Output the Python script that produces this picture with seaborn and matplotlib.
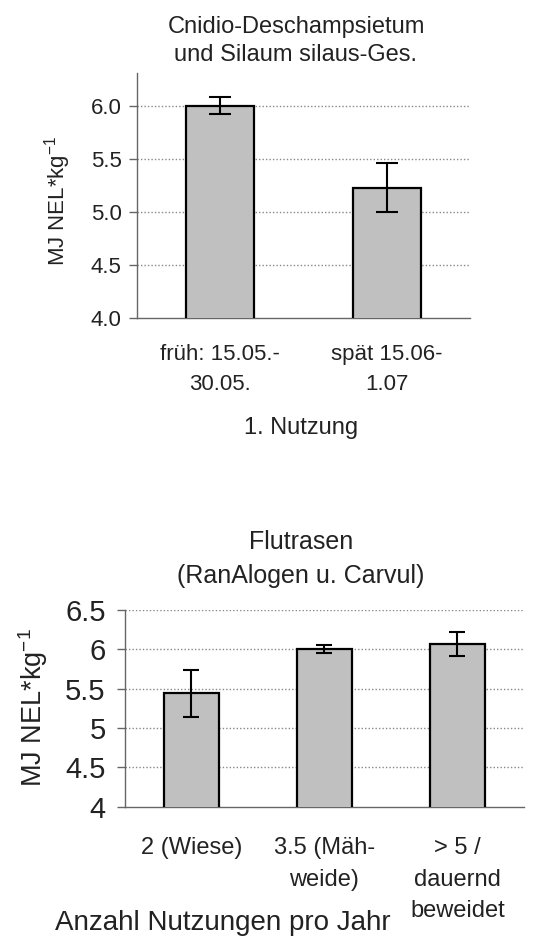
import matplotlib
matplotlib.use("Agg")
import matplotlib.pyplot as plt
import seaborn as sns
import pandas as pd
import numpy as np

sns.set_theme(style="white")
plt.rcParams['font.family'] = ['Liberation Sans', 'DejaVu Sans']

# ---- data ----
top_categories = ["früh: 15.05.-\n30.05.", "spät 15.06-\n1.07"]
top_values = [6.00, 5.23]
top_errors = [0.08, 0.23]

bot_categories = ["2 (Wiese)", "3.5 (Mäh-\nweide)", "> 5 /\ndauernd\nbeweidet"]
bot_values = [5.44, 6.00, 6.07]
bot_errors = [0.30, 0.05, 0.15]

top_title = "Cnidio-Deschampsietum\nund Silaum silaus-Ges."
bot_title = "Flutrasen\n(RanAlogen u. Carvul)"
ylabel = "MJ NEL*kg$^{\\mathregular{-1}}$"
top_xlabel = "1. Nutzung"
bot_xlabel = "Anzahl Nutzungen pro Jahr"
top_yticks = [4.0, 4.5, 5.0, 5.5, 6.0]
bot_yticks = [4, 4.5, 5, 5.5, 6, 6.5]
bot_yticklabels = ["4", "4.5", "5", "5.5", "6", "6.5"]

W, H = 533, 940
fig = plt.figure(figsize=(W / 100, H / 100), dpi=100)
ax1 = fig.add_axes([0.257, 0.6617, 0.625, 0.2606])
ax2 = fig.add_axes([0.2345, 0.1418, 0.7485, 0.2092])

bar_color = "#c0c0c0"
txt = "#222222"


def fx(px):
    return px / W


def fy(py):
    return 1 - py / H


def draw(ax, cats, vals, errs, yticks, ylim, fs_tick, fs_x, xpad, cap, lsp):
    df = pd.DataFrame({"cat": cats, "val": vals})
    sns.barplot(data=df, x="cat", y="val", ax=ax, color=bar_color, width=0.41,
                edgecolor="black", linewidth=1.6, saturation=1, errorbar=None, zorder=3)
    ax.errorbar(np.arange(len(cats)), vals, yerr=errs, fmt="none", ecolor="black",
                elinewidth=1.5, capsize=cap, capthick=1.5, zorder=4)
    ax.set_ylim(*ylim)
    ax.set_xlim(-0.5, len(cats) - 0.5)
    ax.set_yticks(yticks)
    for y in yticks:
        if y > ylim[0]:
            ax.axhline(y, color="#888888", linestyle=(0, (1, 1.5)), linewidth=1.0, zorder=1)
    for s in ["top", "right"]:
        ax.spines[s].set_visible(False)
    for s in ["left", "bottom"]:
        ax.spines[s].set_color("#666666")
        ax.spines[s].set_linewidth(1.0)
    ax.set_xticks(np.arange(-0.5, len(cats), 1.0), minor=True)
    ax.tick_params(axis="x", which="minor", length=6, direction="out", color="#666666", width=1)
    ax.tick_params(axis="x", which="major", length=0, pad=xpad, labelsize=fs_x, labelcolor=txt)
    ax.tick_params(axis="y", which="major", length=6, direction="out", color="#666666", width=1,
                   labelsize=fs_tick, labelcolor=txt, left=True, pad=5)
    for lab in ax.get_xticklabels():
        lab.set_linespacing(lsp)
    ax.set_xlabel("")
    ax.set_ylabel("")


draw(ax1, top_categories, top_values, top_errors, top_yticks, (4.0, 6.31), 16, 16, 19, 8, 1.55)
ax1.set_yticklabels([f"{v:.1f}" for v in top_yticks])
fig.text(fx(58), fy(201), ylabel, fontsize=16, color=txt, rotation=90, ha="center", va="center")
fig.text(fx(296), fy(41), top_title, fontsize=17, color=txt, ha="center", va="center",
         linespacing=1.4)
fig.text(fx(301), fy(428), top_xlabel, fontsize=17, color=txt, ha="center", va="center")

draw(ax2, bot_categories, bot_values, bot_errors, bot_yticks, (4.0, 6.5), 21, 17, 22, 6, 1.55)
ax2.set_yticklabels(bot_yticklabels)
ax2.tick_params(axis="y", pad=8)
fig.text(fx(33), fy(708), ylabel, fontsize=19.5, color=txt, rotation=90, ha="center", va="center")
fig.text(fx(301), fy(559), bot_title, fontsize=18, color=txt, ha="center", va="center",
         linespacing=1.5)
fig.text(fx(223), fy(923), bot_xlabel, fontsize=20, color=txt, ha="center", va="center")

fig.savefig("out.png", dpi=100, facecolor="white")
